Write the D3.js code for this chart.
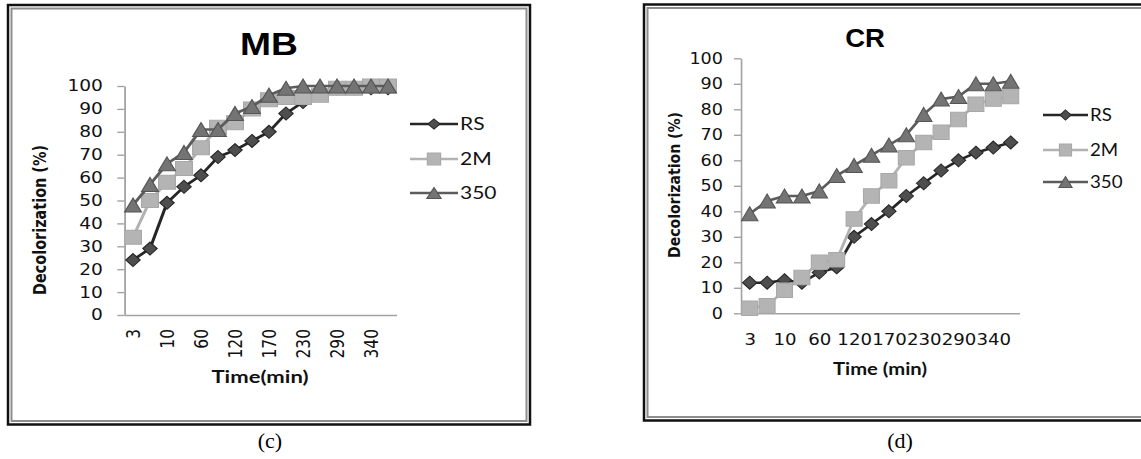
<!DOCTYPE html>
<html>
<head>
<meta charset="utf-8">
<script src="https://cdn.jsdelivr.net/npm/d3@7"></script>
<style>
  html, body { margin: 0; padding: 0; background: #fff; }
  svg { display: block; }
</style>
</head>
<body>
<svg id="fig" width="1141" height="459"></svg>
<script>
// Sampling times (min); the axis labels every second one
const times = [3, 5, 10, 30, 60, 90, 120, 140, 170, 200, 230, 260, 290, 320, 340, 360];
const timeLabels = ["3", "10", "60", "120", "170", "230", "290", "340"];
const seriesNames = ["RS", "2M", "350"];
const yTicks = [0, 10, 20, 30, 40, 50, 60, 70, 80, 90, 100];

// Methylene blue decolorization (%)
const mbRS  = [24, 29, 49, 56, 61, 69, 72, 76, 80, 88, 93, 97, 99, 99, 99, 99];
const mb2M  = [34, 50, 58, 64, 73, 82, 84, 90, 94, 95, 95, 96, 99, 99, 100, 100];
const mb350 = [48, 57, 66, 71, 81, 81, 88, 91, 96, 99, 100, 100, 100, 100, 100, 100];

// Congo red decolorization (%)
const crRS  = [12, 12, 13, 12, 16, 18, 30, 35, 40, 46, 51, 56, 60, 63, 65, 67];
const cr2M  = [2, 3, 9, 14, 20, 21, 37, 46, 52, 61, 67, 71, 76, 82, 84, 85];
const cr350 = [39, 44, 46, 46, 48, 54, 58, 62, 66, 70, 78, 84, 85, 90, 90, 91];

const svg = d3.select("#fig");
const axisColor = "#a3a3a3";

const styles = {
  "RS":  { line: "#262626", fill: "#4e4e4e", stroke: "#262626", shape: "diamond" },
  "2M":  { line: "#b2b2b2", fill: "#b4b4b4", stroke: "#a8a8a8", shape: "square" },
  "350": { line: "#5c5c5c", fill: "#747474", stroke: "#555555", shape: "triangle" }
};

function markerPath(shape, s) {
  const w = s.w / 2, h = s.h / 2;
  if (shape === "diamond") return `M0,${-h}L${w},0L0,${h}L${-w},0Z`;
  if (shape === "square") return `M${-w},${-h}H${w}V${h}H${-w}Z`;
  return `M0,${-h}L${w},${h}L${-w},${h}Z`;
}

// Double frame round each panel
function frame(x0, y0, x1, y1) {
  svg.append("rect").attr("x", x0).attr("y", y0).attr("width", x1 - x0).attr("height", y1 - y0)
    .attr("fill", "none").attr("stroke", "#111").attr("stroke-width", 2.5);
  svg.append("rect").attr("x", x0 + 3.5).attr("y", y0 + 3.5).attr("width", x1 - x0 - 7).attr("height", y1 - y0 - 7)
    .attr("fill", "none").attr("stroke", "#8e8e8e").attr("stroke-width", 2);
}

function drawChart(c) {
  const sx = c.sx;
  const X = s => s / sx;   // panel is drawn slightly widened
  const g = svg.append("g").attr("transform", `scale(${sx},1)`);

  const x = d3.scalePoint().domain(times).range([X(c.plotL), X(c.plotR)]).padding(0.5);
  const y = d3.scaleLinear().domain([0, 100]).range([c.plotB, c.plotT]);

  // y axis
  const ya = g.append("g").attr("transform", `translate(${X(c.plotL)},0)`)
    .call(d3.axisLeft(y).tickValues(yTicks).tickSize(c.tickLen).tickSizeOuter(0).tickPadding(c.tickPad));
  ya.select(".domain").attr("stroke", axisColor).attr("stroke-width", 1.5);
  ya.selectAll(".tick line").attr("stroke", axisColor).attr("stroke-width", 1.4);
  ya.selectAll(".tick text").attr("font-family", "DejaVu Sans").attr("font-size", c.yTickFont).attr("fill", "#111");

  // x axis
  const xa = g.append("g").attr("transform", `translate(0,${c.plotB})`)
    .call(d3.axisBottom(x).tickValues(timeLabels.map(Number)).tickSize(0).tickSizeOuter(0));
  xa.select(".domain").attr("stroke", axisColor).attr("stroke-width", 1.5);
  const xt = xa.selectAll(".tick text").attr("font-family", "DejaVu Sans").attr("font-size", c.xTickFont).attr("fill", "#111");
  if (c.rotateX) {
    xt.attr("transform", "rotate(-90)").attr("text-anchor", "end")
      .attr("x", -c.xLabOff).attr("y", 0).attr("dy", "0.36em");
  } else {
    xt.attr("y", c.xLabOff).attr("dy", "0");
  }

  // series
  const data = c.series;
  seriesNames.forEach((name, k) => {
    const st = styles[name];
    const line = d3.line().x((d, i) => x(times[i])).y(d => y(d));
    g.append("path").datum(data[k]).attr("d", line)
      .attr("fill", "none").attr("stroke", st.line).attr("stroke-width", 2.6).attr("stroke-linejoin", "round");
    g.append("g").selectAll("path").data(data[k]).join("path")
      .attr("transform", (d, i) => `translate(${x(times[i])},${y(d)})`)
      .attr("d", markerPath(st.shape, c.marker[st.shape]))
      .attr("fill", st.fill).attr("stroke", st.stroke).attr("stroke-width", 1);
  });

  // legend
  seriesNames.forEach((name, k) => {
    const st = styles[name];
    const ly = c.legY[k];
    g.append("line").attr("x1", X(c.legX0)).attr("x2", X(c.legX1)).attr("y1", ly).attr("y2", ly)
      .attr("stroke", st.line).attr("stroke-width", 2.6);
    g.append("path").attr("transform", `translate(${X((c.legX0 + c.legX1) / 2)},${ly})`)
      .attr("d", markerPath(st.shape, c.legMarker[st.shape]))
      .attr("fill", st.fill).attr("stroke", st.stroke).attr("stroke-width", 1);
    g.append("text").attr("x", X(c.legTextX)).attr("y", ly + c.legDy)
      .attr("font-family", "Lato").attr("font-size", c.legFont).attr("fill", "#111").text(name);
  });

  // title
  g.append("text").attr("x", X(c.titleX)).attr("y", c.titleY).attr("text-anchor", "middle")
    .attr("font-family", "Liberation Sans").attr("font-weight", "bold").attr("font-size", c.titleFont)
    .attr("fill", "#000").text(c.title);

  // axis titles
  g.append("text").attr("transform", `translate(${X(c.yTitleX)},${c.yTitleY}) rotate(-90)`)
    .attr("text-anchor", "middle").attr("dominant-baseline", "central")
    .attr("font-family", "DejaVu Sans").attr("font-weight", "bold").attr("font-size", 14)
    .attr("textLength", c.yTitleLen).attr("lengthAdjust", "spacingAndGlyphs")
    .attr("fill", "#111").text("Decolorization (%)");

  g.append("text").attr("x", X(c.xTitleX)).attr("y", c.xTitleY).attr("text-anchor", "middle")
    .attr("font-family", "Lato").attr("font-weight", "bold").attr("font-size", 17)
    .attr("textLength", c.xTitleLen / sx).attr("lengthAdjust", "spacingAndGlyphs")
    .attr("fill", "#111").text(c.xTitle);
}

frame(8, 5, 530, 424.5);
frame(644, 4.5, 1160, 420.5);

drawChart({
  sx: 1.2, title: "MB", titleX: 269, titleY: 55, titleFont: 31,
  plotL: 124.5, plotR: 396.5, plotB: 315, plotT: 86,
  tickLen: 6, tickPad: 12, yTickFont: 15.5, xTickFont: 15.5, rotateX: true, xLabOff: 14,
  series: [mbRS, mb2M, mb350],
  marker: { diamond: { w: 12, h: 13 }, square: { w: 14, h: 14 }, triangle: { w: 14, h: 14 } },
  legMarker: { diamond: { w: 10, h: 10 }, square: { w: 11, h: 12 }, triangle: { w: 12, h: 11 } },
  legX0: 410, legX1: 458, legY: [124, 159, 193], legTextX: 460, legDy: 6, legFont: 17.5,
  yTitleX: 41, yTitleY: 220, yTitleLen: 150,
  xTitle: "Time(min)", xTitleX: 260, xTitleY: 383, xTitleLen: 97
});

drawChart({
  sx: 1.1, title: "CR", titleX: 865, titleY: 47, titleFont: 25,
  plotL: 741, plotR: 1019.4, plotB: 313.3, plotT: 58.3,
  tickLen: 6.4, tickPad: 10, yTickFont: 16, xTickFont: 16.5, rotateX: false, xLabOff: 31.7,
  series: [crRS, cr2M, cr350],
  marker: { diamond: { w: 13, h: 13 }, square: { w: 14.5, h: 14.5 }, triangle: { w: 15, h: 14 } },
  legMarker: { diamond: { w: 10, h: 10 }, square: { w: 11, h: 12 }, triangle: { w: 12, h: 11 } },
  legX0: 1043, legX1: 1088, legY: [115, 150, 182], legTextX: 1090, legDy: 6, legFont: 17,
  yTitleX: 674, yTitleY: 185, yTitleLen: 146,
  xTitle: "Time (min)", xTitleX: 880, xTitleY: 375, xTitleLen: 94
});

// panel captions
svg.append("text").attr("x", 270).attr("y", 448).attr("text-anchor", "middle")
  .attr("font-family", "Liberation Serif").attr("font-size", 22).attr("fill", "#000").text("(c)");
svg.append("text").attr("x", 900).attr("y", 448).attr("text-anchor", "middle")
  .attr("font-family", "Liberation Serif").attr("font-size", 22).attr("fill", "#000").text("(d)");
</script>
</body>
</html>
